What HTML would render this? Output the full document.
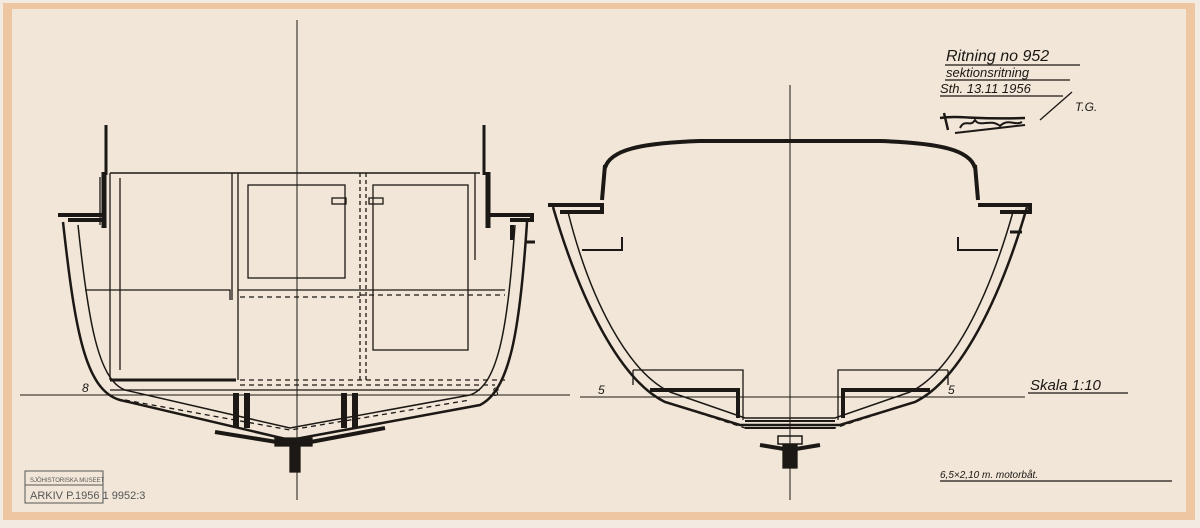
<!DOCTYPE html>
<html><head><meta charset="utf-8"><style>
html,body{margin:0;padding:0;background:#f4ece4}
svg{display:block}
text{font-family:"Liberation Sans",sans-serif;font-style:italic;fill:#1a1714}
</style></head><body>
<svg width="1200" height="528" viewBox="0 0 1200 528" xmlns="http://www.w3.org/2000/svg">
<rect x="0" y="0" width="1200" height="528" fill="#f3ebe2"/>
<rect x="3" y="3" width="1192" height="517" fill="#efc6a2"/>
<rect x="12" y="9" width="1174" height="503" fill="#f1e6d7"/>
<g fill="none" stroke="#1c1815" stroke-width="1.3">
<line x1="297" y1="20" x2="297" y2="500" stroke-width="1"/>
<line x1="790" y1="85" x2="790" y2="500" stroke-width="1"/>
<line x1="20" y1="395" x2="570" y2="395" stroke-width="1"/>
<line x1="580" y1="397" x2="1025" y2="397" stroke-width="1"/>
<!-- LEFT hull -->
<path d="M63,222 C75,330 85,390 120,400 L290,440 L480,405 C510,390 520,330 527,222" stroke-width="2.5"/>
<path d="M78,225 C88,320 98,380 125,390 L290,428 L470,395 C500,385 508,320 515,225" stroke-width="1.5"/>
<path d="M125,400 L290,430 L470,400" stroke-dasharray="5,4"/>
<path d="M110,390 L480,390" />
<path d="M110,380 L236,380" stroke-width="3"/>
<path d="M240,380 L505,380" stroke-dasharray="5,4"/>
<path d="M240,385 L495,385" stroke-dasharray="5,4"/>
<path d="M85,290 L230,290 L230,300" />
<path d="M238,290 L505,290" />
<path d="M360,295 L505,295" stroke-dasharray="5,4"/>
<path d="M240,297 L360,297" stroke-dasharray="5,4"/>
<path d="M110,173 L480,173" stroke-width="1.5"/>
<path d="M110,173 L110,380" />
<path d="M232,173 L232,300 M238,173 L238,380" />
<path d="M360,173 L360,380 M366,173 L366,380" stroke-dasharray="4,3"/>
<path d="M475,173 L475,260" />
<rect x="248" y="185" width="97" height="93"/>
<rect x="373" y="185" width="95" height="165"/>
<rect x="332" y="198" width="14" height="6"/>
<rect x="369" y="198" width="14" height="6"/>
<path d="M120,178 L120,370 M100,177 L100,225" />
<path d="M58,215 L104,215 L104,220 L68,220" stroke-width="4"/>
<path d="M104,172 L104,228" stroke-width="5"/>
<path d="M106,125 L106,175" stroke-width="3"/>
<path d="M488,172 L488,228" stroke-width="5"/>
<path d="M484,125 L484,175" stroke-width="3"/>
<path d="M490,215 L532,215 L532,220 L510,220 M512,225 L512,240" stroke-width="4"/>
<path d="M525,242 L535,242" stroke-width="3"/>
<path d="M236,393 L236,428 M247,393 L247,428 M344,393 L344,428 M355,393 L355,428" stroke-width="6"/>
<path d="M215,432 L295,445 L385,428" stroke-width="4"/>
<path d="M290,440 L290,472 L300,472 L300,440 Z" fill="#1c1815"/>
<path d="M275,438 L312,438 L312,446 L275,446 Z" fill="#1c1815"/>
<!-- RIGHT hull -->
<path d="M553,207 C580,300 620,380 665,402 L740,425 L840,425 L915,402 C960,380 1000,300 1027,207" stroke-width="2.5"/>
<path d="M568,212 C590,300 628,372 670,392 L745,418 L835,418 L910,392 C952,372 988,300 1013,212" stroke-width="1.5"/>
<path d="M690,410 L745,428 L835,428 L890,410" stroke-dasharray="5,4"/>
<path d="M745,421 L835,421 M745,428 L835,428" stroke-width="2"/>
<path d="M605,168 C610,150 640,143 700,141 L880,141 C940,143 970,150 975,168" stroke-width="4"/>
<path d="M605,165 L602,200 M975,165 L978,200" stroke-width="4"/>
<path d="M548,205 L602,205 L602,212 L560,212" stroke-width="4"/>
<path d="M978,205 L1030,205 L1030,212 L1000,212" stroke-width="4"/>
<path d="M582,250 L622,250 L622,237" stroke-width="2"/>
<path d="M998,250 L958,250 L958,237" stroke-width="2"/>
<path d="M1010,232 L1022,232" stroke-width="3"/>
<path d="M633,370 L743,370 L743,420 M633,370 L633,385" />
<path d="M650,390 L738,390 L738,418" stroke-width="4"/>
<path d="M948,370 L838,370 L838,420 M948,370 L948,385" />
<path d="M930,390 L843,390 L843,418" stroke-width="4"/>
<path d="M760,445 L790,450 L820,445" stroke-width="4"/>
<path d="M783,445 L783,468 L797,468 L797,445 Z" fill="#1c1815"/>
<rect x="778" y="436" width="24" height="8" stroke-width="1.5"/>
<line x1="945" y1="65" x2="1080" y2="65"/>
<line x1="945" y1="80" x2="1070" y2="80"/>
<line x1="940" y1="96" x2="1063" y2="96"/>
<line x1="1040" y1="120" x2="1072" y2="92"/>
<path d="M944,113 L948,130 M940,118 C960,115 975,120 1025,118" stroke-width="2.5"/>
<path d="M955,133 L1025,125" stroke-width="2"/>
<path d="M960,128 C965,118 970,128 975,120 C980,128 990,118 1000,126 C1008,118 1015,126 1022,122" stroke-width="2"/>
<line x1="1028" y1="393" x2="1128" y2="393"/>
<line x1="940" y1="481" x2="1172" y2="481"/>
<rect x="25" y="471" width="78" height="32" stroke="#555" stroke-width="1"/>
<line x1="25" y1="485" x2="103" y2="485" stroke="#555" stroke-width="1"/>
</g>
<text x="946" y="61" font-size="16">Ritning no 952</text>
<text x="946" y="77" font-size="13">sektionsritning</text>
<text x="940" y="93" font-size="13">Sth. 13.11 1956</text>
<text x="1075" y="111" font-size="12">T.G.</text>
<text x="1030" y="390" font-size="15">Skala 1:10</text>
<text x="940" y="478" font-size="10">6,5×2,10 m. motorbåt.</text>
<text x="82" y="392" font-size="12">8</text>
<text x="492" y="396" font-size="12">8</text>
<text x="598" y="394" font-size="12">5</text>
<text x="948" y="394" font-size="12">5</text>
<text x="965" y="130" font-size="2" style="fill:#efe4d6">Jvessey</text>
<text x="30" y="482" font-size="6" style="font-style:normal;fill:#555">SJÖHISTORISKA MUSEET</text>
<text x="30" y="499" font-size="11" style="font-style:normal;fill:#555">ARKIV P.1956 1 9952:3</text>
</svg>
</body></html>
